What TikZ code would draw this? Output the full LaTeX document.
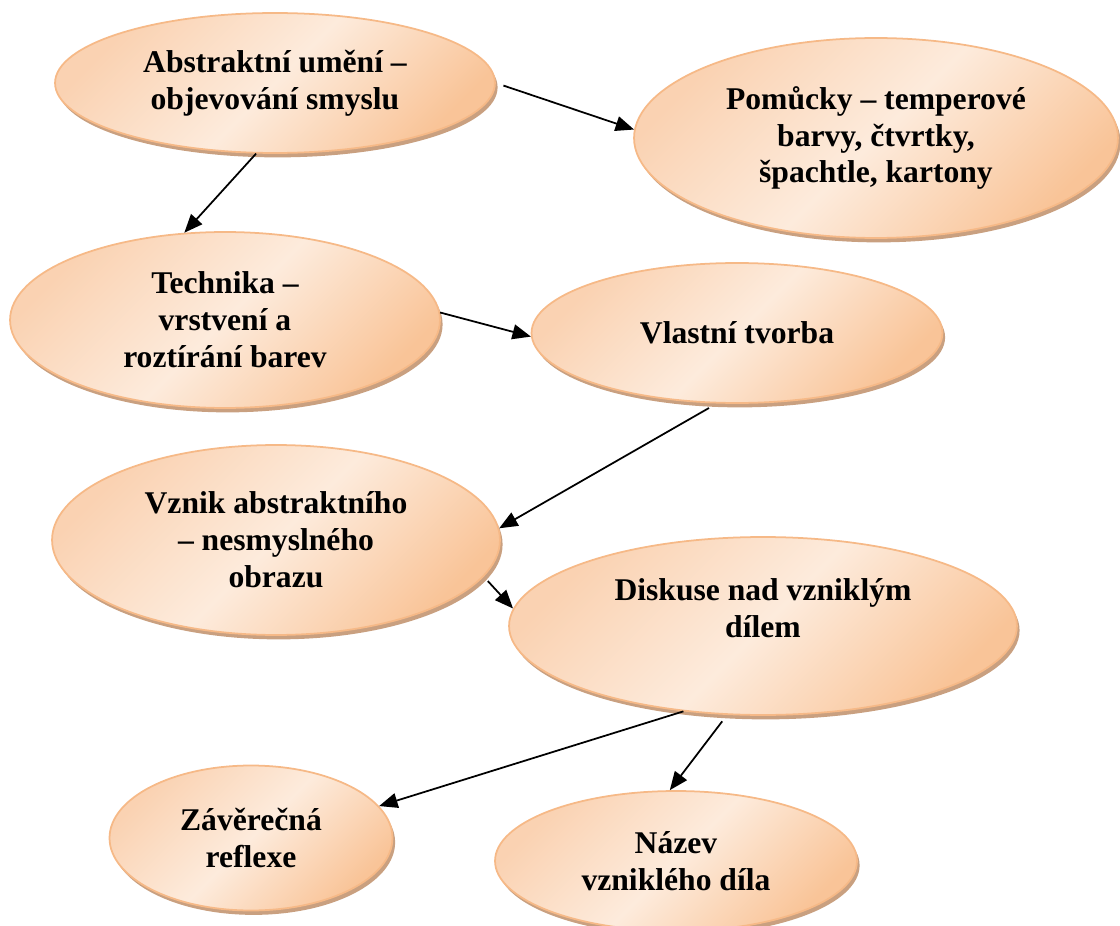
\documentclass[tikz,border=0pt]{standalone}
\usepackage{fontspec}
\setmainfont{Liberation Serif}
\usetikzlibrary{shapes.geometric,shadows,arrows.meta}
\definecolor{peachlight}{RGB}{253,235,220}
\definecolor{peachmid}{RGB}{250,210,178}
\definecolor{peachdark}{RGB}{249,196,152}
\definecolor{peachline}{RGB}{246,185,135}
\definecolor{peachshadow}{RGB}{201,160,128}

\begin{document}
\begin{tikzpicture}[x=0.02cm, y=-0.02cm,
    bubble/.style={ellipse, draw=peachline, line width=1pt,
      left color=peachmid, right color=peachdark, middle color=peachlight, shading angle=45,
      drop shadow={shadow xshift=1.5pt, shadow yshift=-2.5pt, fill=peachshadow, opacity=1},
      align=center, inner sep=0pt, font=\bfseries\fontsize{18}{21}\selectfont},
    link/.style={-{Triangle[length=10.5pt,width=8.5pt]}, line width=1pt}]
      \useasboundingbox (0,0) rectangle (1120,926);
      \node[bubble, minimum width=8.8cm, minimum height=2.8cm] (abstrakt) at (275,83)
        {Abstraktní umění –\\objevování smyslu};
      \node[bubble, minimum width=9.68cm, minimum height=4cm] (pomucky) at (876,138)
        {Pomůcky – temperové\\barvy, čtvrtky,\\špachtle, kartony};
      \node[bubble, minimum width=8.6cm, minimum height=3.52cm] (technika) at (225,320)
        {Technika –\\vrstvení a\\roztírání barev};
      \node[bubble, minimum width=8.22cm, minimum height=2.8cm] (tvorba) at (737,333)
        {Vlastní tvorba};
      \node[bubble, minimum width=8.96cm, minimum height=3.8cm] (vznik) at (276,540)
        {Vznik abstraktního\\– nesmyslného\\obrazu};
      \node[bubble, minimum width=10.16cm, minimum height=3.56cm] (diskuse) at (763,626)
        {\raisebox{0.28cm}[\height][\depth]{\begin{tabular}{@{}c@{}}Diskuse nad vzniklým\\dílem\end{tabular}}};
      \node[bubble, minimum width=5.66cm, minimum height=2.9cm] (reflexe) at (251,838)
        {Závěrečná\\reflexe};
      \node[bubble, minimum width=7.24cm, minimum height=2.8cm] (nazev) at (676,861)
        {Název\\vzniklého díla};

      \draw[link, shorten <=0.16cm] (abstrakt.east) -- (pomucky.178);
      \draw[link] (abstrakt.255) -- (technika.115);
      \draw[link] (technika.2) -- (tvorba.181);
      \draw[link, shorten <=0.18cm] (tvorba.254) -- (vznik.3);
      \draw[link, shorten <=0.12cm] (vznik.-10) -- (diskuse.176);
      \draw[link] (diskuse.227) -- (reflexe.14);
      \draw[link, shorten <=0.16cm] (diskuse.248) -- (nazev.95);
\end{tikzpicture}
\end{document}
